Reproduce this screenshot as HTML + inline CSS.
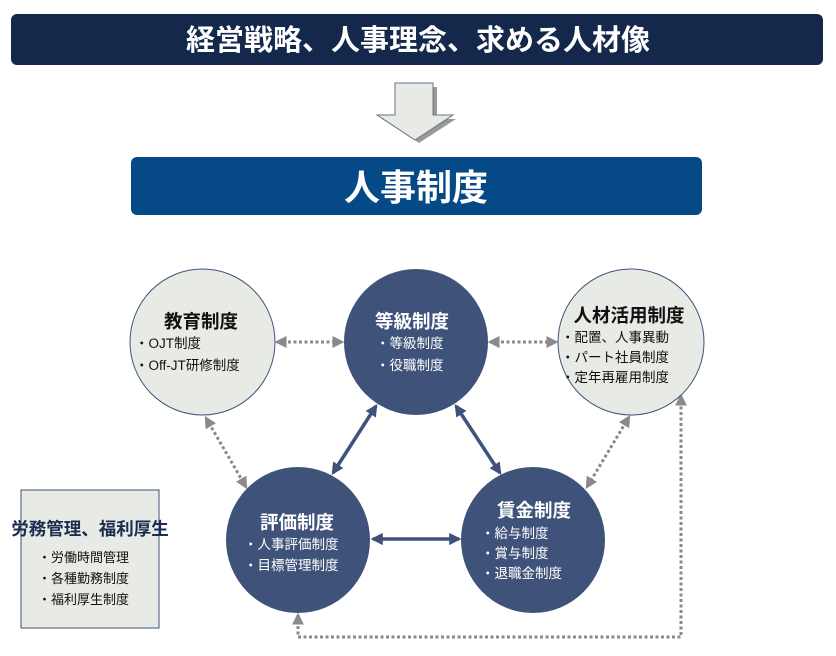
<!DOCTYPE html><html><head><meta charset="utf-8"><style>
body{margin:0;background:#fff;width:836px;height:656px;overflow:hidden}
svg{display:block}
text{font-family:"Liberation Sans","Noto Sans CJK JP",sans-serif}
</style></head><body>
<svg width="836" height="656" viewBox="0 0 836 656">
<defs>
<marker id="g" viewBox="0 0 10 10" refX="8" refY="5" markerWidth="4" markerHeight="4" orient="auto-start-reverse"><path d="M0,0L10,5L0,10z" fill="#8a8a8a"/></marker>
<marker id="n" viewBox="0 0 10 10" refX="8" refY="5" markerWidth="3.5" markerHeight="3.5" orient="auto-start-reverse"><path d="M0,0L10,5L0,10z" fill="#3f537a"/></marker>
</defs>
<rect x="11" y="14" width="812" height="51" rx="6" fill="#14284b"/>
<text x="418" y="50" font-size="29" font-weight="bold" fill="#fff" text-anchor="middle">経営戦略、人事理念、求める人材像</text>
<path d="M399,87h38v32h19l-37,24l-37,-24h17z" fill="#999"/>
<path d="M395,83h38v32h20l-38,25l-38,-25h18z" fill="#e8eae6" stroke="#6a7488" stroke-width="1"/>
<rect x="131" y="157" width="571" height="58" rx="6" fill="#054a86"/>
<text x="416" y="200" font-size="36" font-weight="bold" fill="#fff" text-anchor="middle">人事制度</text>
<g stroke="#8a8a8a" stroke-width="3" stroke-dasharray="3,2.5" fill="none" marker-start="url(#g)" marker-end="url(#g)">
<line x1="277" y1="342" x2="342" y2="342"/>
<line x1="490" y1="342" x2="556" y2="342"/>
<line x1="206" y1="418" x2="246" y2="487"/>
<line x1="629" y1="417" x2="587" y2="487"/>
<path d="M298,615V637H681V396" />
</g>
<g stroke="#3f537a" stroke-width="3.5" fill="none" marker-start="url(#n)" marker-end="url(#n)">
<line x1="376" y1="406" x2="333" y2="473"/>
<line x1="456" y1="406" x2="500" y2="473"/>
<line x1="373" y1="539" x2="459" y2="539"/>
</g>
<ellipse cx="202.5" cy="342" rx="72.5" ry="73" fill="#e8eae6" stroke="#3f537a" stroke-width="1"/>
<ellipse cx="631" cy="342" rx="73" ry="73" fill="#e8eae6" stroke="#3f537a" stroke-width="1"/>
<ellipse cx="416" cy="342" rx="72" ry="73" fill="#3f537a"/>
<ellipse cx="298" cy="540" rx="72" ry="73" fill="#3f537a"/>
<ellipse cx="533" cy="540" rx="72" ry="73" fill="#3f537a"/>
<g font-size="13.5" fill="#111">
<text x="201" y="328" font-size="18.5" font-weight="bold" text-anchor="middle">教育制度</text>
<text x="135" y="348">・OJT制度</text>
<text x="135" y="370">・Off-JT研修制度</text>
<text x="629" y="322" font-size="18.5" font-weight="bold" text-anchor="middle">人材活用制度</text>
<text x="561" y="342">・配置、人事異動</text>
<text x="561" y="362">・パート社員制度</text>
<text x="561" y="382">・定年再雇用制度</text>
</g>
<g font-size="13.5" fill="#fff">
<text x="412" y="328" font-size="18.5" font-weight="bold" text-anchor="middle">等級制度</text>
<text x="376" y="348">・等級制度</text>
<text x="376" y="370">・役職制度</text>
<text x="297" y="529" font-size="18.5" font-weight="bold" text-anchor="middle">評価制度</text>
<text x="244" y="549">・人事評価制度</text>
<text x="244" y="570">・目標管理制度</text>
<text x="534" y="517" font-size="18.5" font-weight="bold" text-anchor="middle">賃金制度</text>
<text x="481" y="538">・給与制度</text>
<text x="481" y="558">・賞与制度</text>
<text x="481" y="578">・退職金制度</text>
</g>
<rect x="21" y="490" width="138" height="138" fill="#e8eae6" stroke="#3f537a" stroke-width="1"/>
<text x="90" y="535" font-size="17.5" font-weight="bold" fill="#1b2d50" text-anchor="middle">労務管理、福利厚生</text>
<g font-size="13" fill="#111">
<text x="38" y="562">・労働時間管理</text>
<text x="38" y="583">・各種勤務制度</text>
<text x="38" y="604">・福利厚生制度</text>
</g>
</svg>
</body></html>
